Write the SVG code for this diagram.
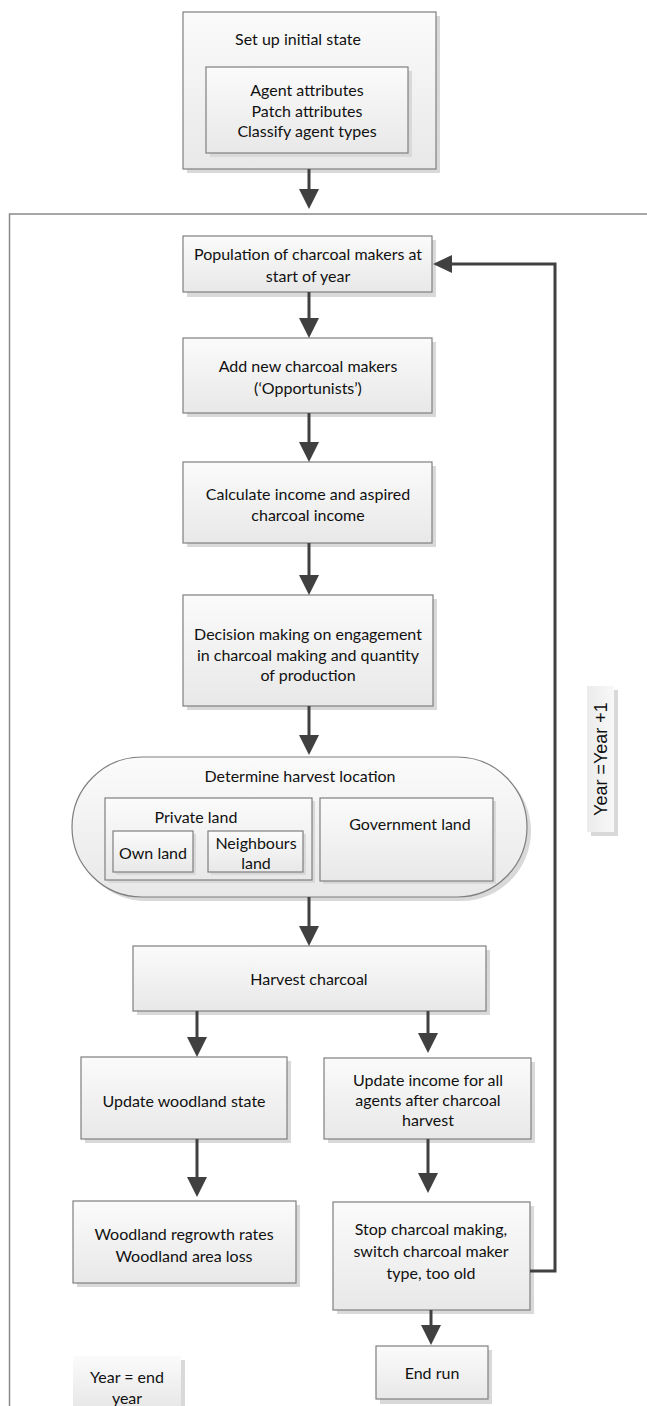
<svg xmlns="http://www.w3.org/2000/svg" width="647" height="1406" viewBox="0 0 647 1406">
<defs>
<linearGradient id="g" x1="0" y1="0" x2="0" y2="1">
<stop offset="0" stop-color="#fbfbfb"/>
<stop offset="1" stop-color="#e8e8e8"/>
</linearGradient>
<linearGradient id="gh" x1="0" y1="0" x2="1" y2="0">
<stop offset="0" stop-color="#ebebeb"/>
<stop offset="1" stop-color="#f8f8f8"/>
</linearGradient>
</defs>
<style>
.b{fill:url(#g);stroke:#7f7f7f;stroke-width:1.2}
.nb{fill:url(#g);stroke:none}
.sh{fill:#d9d9d9;stroke:none}
.t{font-family:Lato,"Open Sans","Liberation Sans",sans-serif;font-size:16px;fill:#111;text-anchor:middle;dominant-baseline:central}
.v{font-family:"Liberation Sans",Arial,sans-serif;font-size:18px;fill:#111;text-anchor:middle;dominant-baseline:central}
.c{stroke:#404040;stroke-width:3;fill:none}
.h{fill:#404040;stroke:none}
.f{stroke:#8a8a8a;stroke-width:1.5;fill:none}
</style>
<rect width="647" height="1406" fill="#ffffff"/>

<g id="frame">
<path class="f" d="M647,214 H9.5 V1406"/>
</g>

<g id="setup">
<rect class="sh" x="187" y="16" width="253" height="157"/>
<rect class="b" x="183" y="12" width="253" height="157"/>
<text class="t" x="298" y="38">Set up initial state</text>
<g id="attributes">
<rect class="sh" x="210" y="71" width="202" height="86"/>
<rect class="b" x="206" y="67" width="202" height="86"/>
<text class="t" x="307" y="89">Agent attributes</text>
<text class="t" x="307" y="110">Patch attributes</text>
<text class="t" x="307" y="130">Classify agent types</text>
</g>
</g>

<g id="population">
<rect class="sh" x="187" y="240" width="249" height="57"/>
<rect class="b" x="183" y="236" width="249" height="56"/>
<text class="t" x="308" y="253">Population of charcoal makers at</text>
<text class="t" x="308" y="275">start of year</text>
</g>

<g id="addnew">
<rect class="sh" x="187" y="342" width="249" height="75"/>
<rect class="b" x="183" y="338" width="249" height="75"/>
<text class="t" x="308" y="365">Add new charcoal makers</text>
<text class="t" x="308" y="387">(‘Opportunists’)</text>
</g>

<g id="calc">
<rect class="sh" x="187" y="466" width="249" height="81"/>
<rect class="b" x="183" y="462" width="249" height="81"/>
<text class="t" x="308" y="493">Calculate income and aspired</text>
<text class="t" x="308" y="514">charcoal income</text>
</g>

<g id="decision">
<rect class="sh" x="187" y="599" width="250" height="111"/>
<rect class="b" x="183" y="595" width="250" height="111"/>
<text class="t" x="308" y="633">Decision making on engagement</text>
<text class="t" x="308" y="654">in charcoal making and quantity</text>
<text class="t" x="308" y="674">of production</text>
</g>

<g id="location">
<rect class="sh" x="76" y="761" width="455" height="140" rx="70" ry="70"/>
<rect class="b" x="72" y="757" width="455" height="140" rx="70" ry="70"/>
<text class="t" x="300" y="775">Determine harvest location</text>
<g id="private">
<rect class="sh" x="108" y="801" width="207" height="82"/>
<rect class="b" x="105" y="798" width="207" height="82"/>
<text class="t" x="196" y="816">Private land</text>
</g>
<g id="own">
<rect class="sh" x="116" y="834" width="80" height="41"/>
<rect class="b" x="113" y="831" width="80" height="41"/>
<text class="t" x="153" y="852">Own land</text>
</g>
<g id="neighbours">
<rect class="sh" x="211" y="834" width="95" height="41"/>
<rect class="b" x="208" y="831" width="95" height="41"/>
<text class="t" x="256" y="842">Neighbours</text>
<text class="t" x="256" y="862">land</text>
</g>
<g id="government">
<rect class="sh" x="323" y="801" width="173" height="83"/>
<rect class="b" x="320" y="798" width="173" height="83"/>
<text class="t" x="410" y="823">Government land</text>
</g>
</g>

<g id="harvest">
<rect class="sh" x="137" y="950" width="353" height="65"/>
<rect class="b" x="133" y="946" width="353" height="65"/>
<text class="t" x="309" y="978">Harvest charcoal</text>
</g>

<g id="woodland">
<rect class="sh" x="85" y="1061" width="206" height="82"/>
<rect class="b" x="81" y="1057" width="206" height="82"/>
<text class="t" x="184" y="1100">Update woodland state</text>
</g>

<g id="income">
<rect class="sh" x="328" y="1062" width="207" height="81"/>
<rect class="b" x="324" y="1058" width="207" height="81"/>
<text class="t" x="428" y="1079">Update income for all</text>
<text class="t" x="428" y="1099">agents after charcoal</text>
<text class="t" x="428" y="1119">harvest</text>
</g>

<g id="regrowth">
<rect class="sh" x="77" y="1205" width="223" height="82"/>
<rect class="b" x="73" y="1201" width="223" height="82"/>
<text class="t" x="184" y="1233">Woodland regrowth rates</text>
<text class="t" x="184" y="1255">Woodland area loss</text>
</g>

<g id="stop">
<rect class="sh" x="337" y="1206" width="197" height="108"/>
<rect class="b" x="333" y="1202" width="197" height="108"/>
<text class="t" x="431" y="1228">Stop charcoal making,</text>
<text class="t" x="431" y="1250">switch charcoal maker</text>
<text class="t" x="431" y="1272">type, too old</text>
</g>

<g id="endrun">
<rect class="sh" x="380" y="1350" width="112" height="54"/>
<rect class="b" x="376" y="1346" width="112" height="53"/>
<text class="t" x="432" y="1372">End run</text>
</g>

<g id="yearend">
<rect class="sh" x="77" y="1360" width="108" height="50"/>
<rect class="nb" x="73" y="1356" width="108" height="50"/>
<text class="t" x="127" y="1376">Year = end</text>
<text class="t" x="127" y="1397">year</text>
</g>

<g id="yearplus">
<rect class="sh" x="591" y="690" width="27" height="146"/>
<rect fill="url(#gh)" x="587" y="686" width="27" height="146"/>
<text class="v" x="601" y="759" transform="rotate(-90 601 759)">Year =Year +1</text>
</g>

<g id="connectors">
<line class="c" x1="309" y1="169" x2="309" y2="190"/>
<polygon class="h" points="299,189 319,189 309,209"/>
<line class="c" x1="309" y1="292" x2="309" y2="320"/>
<polygon class="h" points="299,318 319,318 309,338"/>
<line class="c" x1="309" y1="413" x2="309" y2="444"/>
<polygon class="h" points="299,442 319,442 309,462"/>
<line class="c" x1="309" y1="543" x2="309" y2="577"/>
<polygon class="h" points="299,575 319,575 309,595"/>
<line class="c" x1="309" y1="706" x2="309" y2="737"/>
<polygon class="h" points="299,735 319,735 309,755"/>
<line class="c" x1="309" y1="897" x2="309" y2="928"/>
<polygon class="h" points="299,926 319,926 309,946"/>
<line class="c" x1="197" y1="1011" x2="197" y2="1039"/>
<polygon class="h" points="187,1037 207,1037 197,1057"/>
<line class="c" x1="428" y1="1011" x2="428" y2="1035"/>
<polygon class="h" points="418,1033 438,1033 428,1053"/>
<line class="c" x1="197" y1="1139" x2="197" y2="1179"/>
<polygon class="h" points="187,1177 207,1177 197,1197"/>
<line class="c" x1="428" y1="1139" x2="428" y2="1175"/>
<polygon class="h" points="418,1173 438,1173 428,1193"/>
<line class="c" x1="431" y1="1310" x2="431" y2="1327"/>
<polygon class="h" points="421,1325 441,1325 431,1345"/>
<path class="c" d="M530,1271 H555 V264 H450"/>
<polygon class="h" points="452,255 452,273 433,264"/>
</g>
</svg>
